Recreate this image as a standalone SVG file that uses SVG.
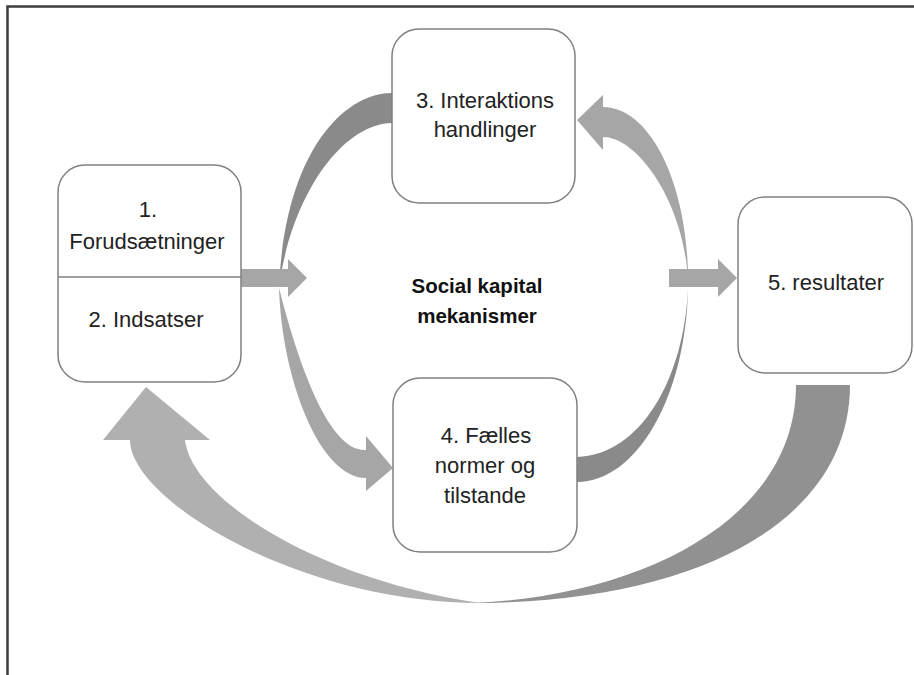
<svg xmlns="http://www.w3.org/2000/svg" width="914" height="675" viewBox="0 0 914 675">
<style>
.box{fill:#fff;stroke:#808080;stroke-width:1.5}
.t{font-family:"Liberation Sans",Arial,sans-serif;font-size:22px;fill:#222;text-anchor:middle}
.b{font-family:"Liberation Sans",Arial,sans-serif;font-size:20.5px;font-weight:bold;fill:#111;text-anchor:middle}
.light{fill:#a6a6a6}
.dark{fill:#8a8a8a}
.blight{fill:#b0b0b0}
.bdark{fill:#919191}
</style>
<rect x="0" y="0" width="914" height="675" fill="#fff"/>
<rect x="7.5" y="6.5" width="1000" height="1000" fill="none" stroke="#3c3c3c" stroke-width="2.5"/>
<g id="connectors">
  <path id="left-back" class="dark" d="M392,93 C345,93 285,150 279,288 C290,200 340,124 392,123 Z"/>
  <path id="left-front" class="light" d="M279,288 C282,380 320,478 366,478 L366,491 L393,468 L366,436 L366,450 C330,452 300,370 279,288 Z"/>
  <path id="right-back" class="dark" d="M577,482 C637,482 686,396 688,288 C684,380 640,455 577,457 Z"/>
  <path id="right-front" class="light" d="M688,288 C690,187 651,107 603,107 L603,95 L577,120 L603,150 L603,137 C640,137 688,210 688,288 Z"/>
  <path id="bottom-back" class="bdark" d="M796,385 L850,385 C850,520 700,603 470,603 C640,597 796,520 796,385 Z"/>
  <path id="bottom-front" class="blight" d="M480,603 C300,603 130,500 130,440 L103,440 L146,387 L210,440 L185,440 C192,500 320,580 480,603 Z"/>
  <path id="arrow-1-center" class="light" d="M240,269 H288 V259 L307,278 L288,297 V287 H240 Z"/>
  <path id="arrow-center-5" class="light" d="M669,269 H718 V259 L737,278 L718,297 V287 H669 Z"/>
</g>
<g id="node1">
  <rect class="box" x="58" y="165" width="183" height="217" rx="27"/>
  <line x1="58" y1="277" x2="241" y2="277" stroke="#808080" stroke-width="1.5"/>
  <text class="t" x="148" y="217">1.</text>
  <text class="t" x="147" y="249">Forudsætninger</text>
  <text class="t" x="146" y="327">2. Indsatser</text>
</g>
<g id="node3">
  <rect class="box" x="392" y="29" width="183" height="174" rx="27"/>
  <text class="t" x="485" y="108">3. Interaktions</text>
  <text class="t" x="485" y="137">handlinger</text>
</g>
<g id="node4">
  <rect class="box" x="393" y="378" width="184" height="174" rx="27"/>
  <text class="t" x="486" y="443">4. Fælles</text>
  <text class="t" x="485" y="473">normer og</text>
  <text class="t" x="485" y="503">tilstande</text>
</g>
<g id="node5">
  <rect class="box" x="738" y="197" width="174" height="176" rx="27"/>
  <text class="t" x="826" y="290">5. resultater</text>
</g>
<g id="center-label">
  <text class="b" x="477" y="293">Social kapital</text>
  <text class="b" x="477" y="323">mekanismer</text>
</g>
</svg>
